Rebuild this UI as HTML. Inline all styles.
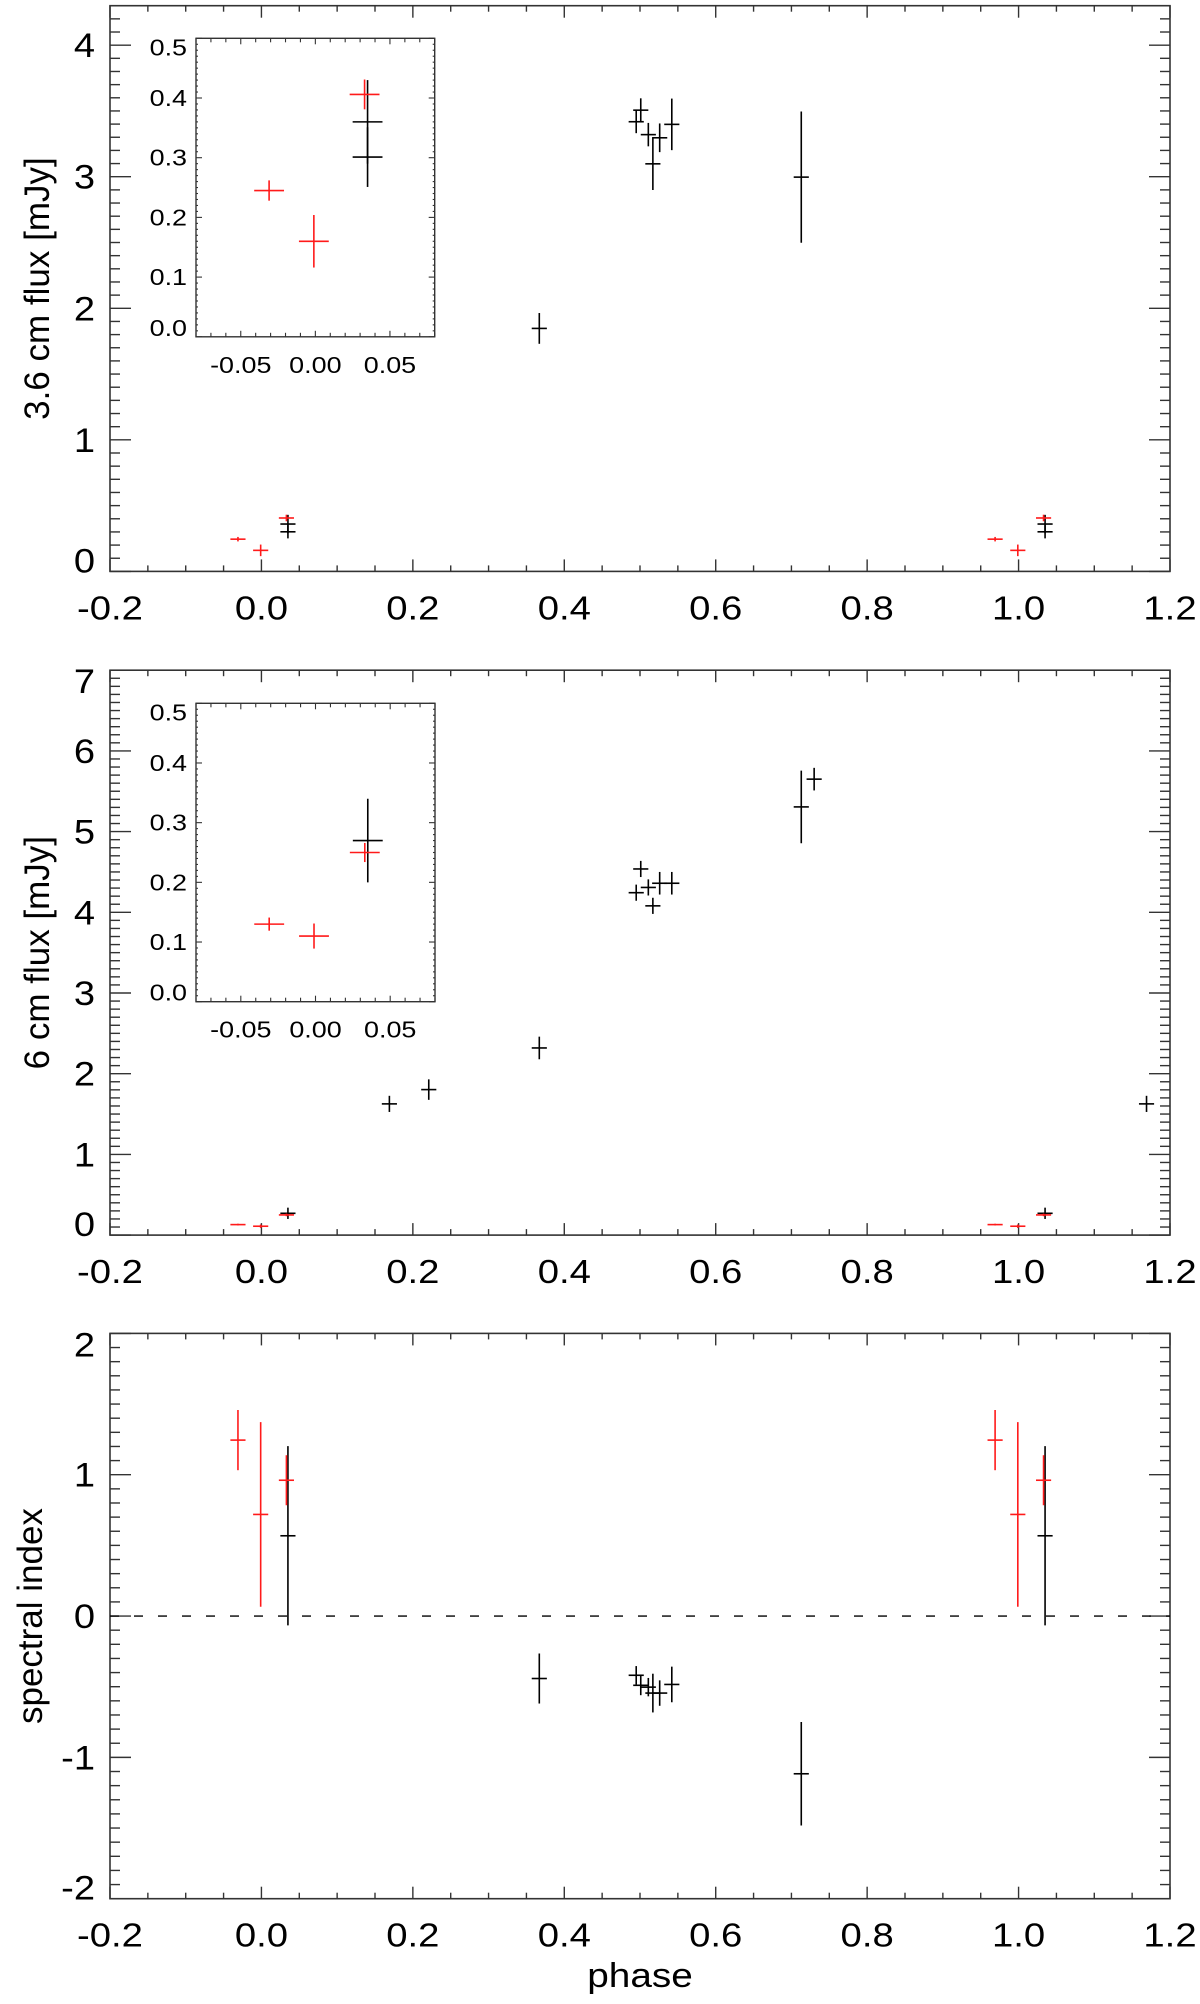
<!DOCTYPE html>
<html><head><meta charset="utf-8"><style>
html,body{margin:0;padding:0;background:#fff;}
svg{display:block;font-family:"Liberation Sans",Arial,sans-serif;}
</style></head><body>
<svg id="chart" width="1200" height="2004" viewBox="0 0 1200 2004" xmlns="http://www.w3.org/2000/svg"></svg>
<script>
// ---- data ----
const p1BlackPhase = [0.035,0.035,0.367,0.495,0.501,0.511,0.517,0.526,0.542,0.713];
const p1BlackFlux  = [0.360,0.301,1.847,3.418,3.506,3.320,3.098,3.296,3.398,2.997];
const p1BlackErr   = [0.07,0.05,0.117,0.087,0.09,0.089,0.199,0.109,0.196,0.499];
const p1RedPhase = [-0.031,-0.001,0.033];
const p1RedFlux  = [0.245,0.160,0.406];
const p1RedErr   = [0.017,0.044,0.025];

const p2BlackPhase = [0.035,0.169,0.221,0.367,0.495,0.501,0.511,0.517,0.526,0.542,0.713,0.730];
const p2BlackFlux  = [0.27,1.626,1.803,2.319,4.243,4.537,4.308,4.08,4.36,4.36,5.306,5.65];
const p2BlackErr   = [0.07,0.1,0.127,0.14,0.1,0.1,0.1,0.1,0.14,0.14,0.45,0.14];
const p2RedPhase = [-0.031,-0.001,0.033];
const p2RedFlux  = [0.13,0.11,0.25];
const p2RedErr   = [0.011,0.021,0.016];

const p3BlackPhase = [0.035,0.367,0.495,0.501,0.511,0.517,0.526,0.542,0.713];
const p3BlackIndex = [0.568,-0.442,-0.419,-0.49,-0.503,-0.545,-0.545,-0.484,-1.116];
const p3BlackErr   = [0.634,0.177,0.065,0.07,0.065,0.137,0.09,0.126,0.366];
const p3RedPhase = [-0.031,-0.001,0.033];
const p3RedIndex = [1.245,0.719,0.961];
const p3RedErr   = [0.213,0.653,0.177];

const phaseErr = 0.01;
const xTickLabels = ["-0.2","0.0","0.2","0.4","0.6","0.8","1.0","1.2"];
const p1YTickLabels = ["0","1","2","3","4"];
const p2YTickLabels = ["0","1","2","3","4","5","6","7"];
const p3YTickLabels = ["-2","-1","0","1","2"];
const insetXTickLabels = ["-0.05","0.00","0.05"];
const insetYTickLabels = ["0.0","0.1","0.2","0.3","0.4","0.5"];

const NS = "http://www.w3.org/2000/svg";
const svg = document.getElementById("chart");
function el(tag, attrs, parent){
  const e = document.createElementNS(NS, tag);
  for (const k in attrs) e.setAttribute(k, attrs[k]);
  (parent||svg).appendChild(e);
  return e;
}
function line(g,x1,y1,x2,y2,stroke,w){
  return el("line",{x1:x1,y1:y1,x2:x2,y2:y2,stroke:stroke,"stroke-width":w||1.5},g);
}
function label(g,x,y,txt,size,anchor,sx){
  const t = el("g",{transform:`translate(${x},${y}) scale(${sx},1)`},g);
  const tx = el("text",{x:0,y:0,"font-size":size,"text-anchor":anchor,fill:"#000"},t);
  tx.textContent = txt;
  return tx;
}
function makeScale(d0,d1,r0,r1){ return v => r0 + (v-d0)/(d1-d0)*(r1-r0); }

function drawPanel(opt){
  const g = el("g",{});
  
  
  const {L,R,T,B,y0,y1} = opt;
  const X = makeScale(-0.2,1.2,L,R), Y = makeScale(y0,y1,B,T);
  const ax = "#333";
  el("rect",{x:L,y:T,width:R-L,height:B-T,fill:"none",stroke:ax,"stroke-width":1.6},g);
  for (let i=0;i<=28;i++){
    const v=-0.2+i*0.05, x=X(v), major=(i%4===0), len=major?12:6;
    line(g,x,B,x,B-len,ax,1.4); line(g,x,T,x,T+len,ax,1.4);
  }
  xTickLabels.forEach(s=>{
    const tl = label(g,X(parseFloat(s)),B+48,s,33,"middle",1.16);
    
    
  });
  const n = Math.round((y1-y0)/0.1);
  for (let i=0;i<=n;i++){
    const v=y0+i*0.1, y=Y(v), major=(i%10===0), len=major?21:10;
    line(g,L,y,L+len,y,ax,1.4); line(g,R,y,R-len,y,ax,1.4);
  }
  opt.yLabels.forEach(s=>{
    const v=parseFloat(s); let y=Y(v)+12;
    if (Math.abs(v-y0)<1e-6) y-=11; else if (Math.abs(v-y1)<1e-6) y+=11;
    const tl = label(g,95,y,s,34,"end",1.12);
    
    
  });
  const tt = el("text",{transform:`translate(${opt.titleX},${(T+B)/2}) rotate(-90)`,"font-size":opt.titleSize||35,"text-anchor":"middle",fill:"#000"},g);
  tt.textContent = opt.title;
  
  
  if (opt.zeroLine){
    const zl = el("line",{x1:L,x2:R,y1:Y(0),y2:Y(0),stroke:"#000","stroke-width":1.3,"stroke-dasharray":"9,15"},g);
    
    
  }
  const series=[[opt.bPhase,opt.bVal,opt.bErr,"#000","black-point"],[opt.rPhase,opt.rVal,opt.rErr,"#ff1a1a","red-point"]];
  series.forEach(([ph,val,er,col,nm])=>{
    ph.forEach((p,i)=>{
      [p,p+1].forEach(pp=>{
        if (pp<-0.2||pp>1.2) return;
        const pg = el("g",{},g);
        
        
        line(pg,X(pp-phaseErr),Y(val[i]),X(pp+phaseErr),Y(val[i]),col,1.6);
        line(pg,X(pp),Y(val[i]-er[i]),X(pp),Y(val[i]+er[i]),col,1.6);
      });
    });
  });
  if (opt.inset) drawInset(opt.inset, opt);
}

function drawInset(ins, opt){
  const g = el("g",{});
  
  
  const {L,R,T,B,y0,y1} = ins;
  const X = makeScale(-0.08,0.08,L,R), Y = makeScale(y0,y1,B,T);
  const ax="#333";
  el("rect",{x:L,y:T,width:R-L,height:B-T,fill:"#fff",stroke:ax,"stroke-width":1.4},g);
  for (let i=0;i<=16;i++){
    const v=-0.08+i*0.01, x=X(v), major=(Math.abs(Math.round(v*100))%5===0), len=major?6:4;
    line(g,x,B,x,B-len,ax,1.1); line(g,x,T,x,T+len,ax,1.1);
  }
  for (let i=0;i<=50;i++){
    const v=i*0.01; const y=Y(v), major=(i%10===0), len=major?6:2;
    line(g,L,y,L+len,y,ax,1.1); line(g,R,y,R-len,y,ax,1.1);
  }
  insetXTickLabels.forEach(s=>{
    const tl = label(g,X(parseFloat(s)),B+36,s,23,"middle",1.17);
    
    
  });
  insetYTickLabels.forEach(s=>{
    const v=parseFloat(s); let y=Y(v)+8;
    if (Math.abs(v-y0)<1e-6) y-=9; else if (Math.abs(v-y1)<1e-6) y+=9;
    const tl = label(g,L-9,y,s,23,"end",1.17);
    
    
  });
  const series=[[opt.bPhase,opt.bVal,opt.bErr,"#000","inset-black-point"],[opt.rPhase,opt.rVal,opt.rErr,"#ff1a1a","inset-red-point"]];
  series.forEach(([ph,val,er,col,nm])=>{
    ph.forEach((p,i)=>{
      if (p<-0.08||p>0.08||val[i]>y1) return;
      const pg = el("g",{},g);
      
      
      line(pg,X(p-phaseErr),Y(val[i]),X(p+phaseErr),Y(val[i]),col,1.6);
      line(pg,X(p),Y(val[i]-er[i]),X(p),Y(val[i]+er[i]),col,1.6);
    });
  });
}

drawPanel({name:"flux-3.6cm-panel",L:110,R:1170,T:5.7,B:571.4,y0:0,y1:4.3,yLabels:p1YTickLabels,
  title:"3.6 cm flux [mJy]",titleX:49,bPhase:p1BlackPhase,bVal:p1BlackFlux,bErr:p1BlackErr,
  rPhase:p1RedPhase,rVal:p1RedFlux,rErr:p1RedErr,
  inset:{L:196,R:434.7,T:38.3,B:336.8,y0:0,y1:0.5}});
drawPanel({name:"flux-6cm-panel",L:110,R:1170,T:670.2,B:1235.1,y0:0,y1:7,yLabels:p2YTickLabels,
  title:"6 cm flux [mJy]",titleX:49,bPhase:p2BlackPhase,bVal:p2BlackFlux,bErr:p2BlackErr,
  rPhase:p2RedPhase,rVal:p2RedFlux,rErr:p2RedErr,
  inset:{L:196,R:435,T:703.3,B:1001.7,y0:0,y1:0.5}});
drawPanel({name:"spectral-index-panel",L:110,R:1170,T:1333.4,B:1898.7,y0:-2,y1:2,yLabels:p3YTickLabels,
  title:"spectral index",titleX:42,titleSize:35,zeroLine:true,bPhase:p3BlackPhase,bVal:p3BlackIndex,bErr:p3BlackErr,
  rPhase:p3RedPhase,rVal:p3RedIndex,rErr:p3RedErr});

const xt = label(svg,640,1987,"phase",34,"middle",1.14);


</script>
</body></html>
